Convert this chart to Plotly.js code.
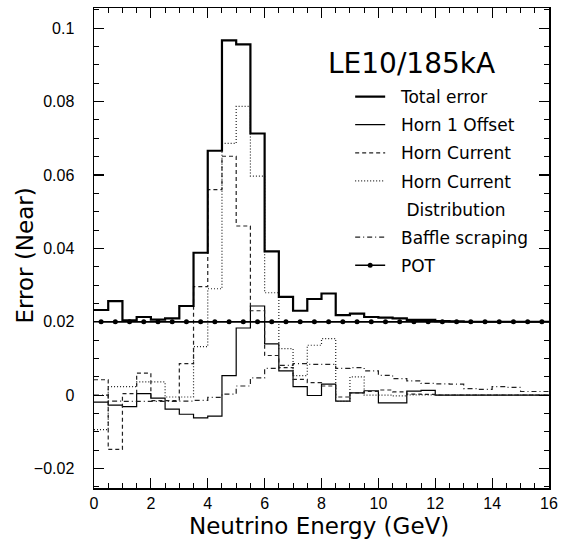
<!DOCTYPE html>
<html>
<head>
<meta charset="utf-8">
<script src="https://cdn.plot.ly/plotly-3.0.1.min.js"></script>
<style>html,body{margin:0;padding:0;background:#fff;}#chart{width:562px;height:544px;}</style>
</head>
<body>
<div id="chart"></div>
<script>
// Bin edges (GeV) of the histograms
const binEdges = [0,0.5,1,1.5,2,2.5,3,3.5,4,4.5,5,5.5,6,6.5,7,7.5,8,8.5,9,9.5,10,10.5,11,11.5,12,12.5,13,13.5,14,14.5,15,15.5,16];

const totalError = [0.0232,0.0256,0.0204,0.0213,0.0206,0.0209,0.0243,0.0388,0.0666,0.0967,0.0956,0.0713,0.0392,0.0268,0.0230,0.0262,0.0277,0.0218,0.0222,0.0213,0.0211,0.0209,0.0205,0.0205,0.0202,0.0201,0.0200,0.0200,0.0200,0.0200,0.0200,0.0200];
const horn1Offset = [-0.0019,-0.0027,-0.0031,0.0004,-0.0008,-0.0038,-0.0052,-0.0062,-0.0057,0.0053,0.0183,0.0243,0.0140,0.0066,0.0023,-0.0001,0.0030,-0.0016,0.0006,0.0012,-0.0021,-0.0021,0.0011,0.0013,0,0,0,0,0,0,0,0];
const hornCurrent = [0.0042,-0.0148,0.0004,0.0060,-0.0015,-0.0015,0.0086,0.0296,0.0560,0.0651,0.0461,0.0230,0.0108,0.0075,0.0043,0.0034,0.0025,-0.0005,0.0006,0.0010,0.0014,0.0009,0.0003,0.0002,0,0,0,0,0,0,0,0];
const hornCurrentDist = [-0.0094,0.0023,0.0023,0.0036,0.0036,-0.0005,-0.0005,0.0132,0.0290,0.0686,0.0787,0.0597,0.0279,0.0127,0.0053,0.0136,0.0154,-0.0017,0.0050,0.0000,0.0000,-0.0002,0.0001,0.0001,0,0,0,0,0,0,0,0];
const baffleScraping = [0.0000,-0.0016,-0.0017,-0.0017,-0.0017,-0.0017,-0.0016,-0.0014,-0.0006,0.0003,0.0025,0.0047,0.0073,0.0081,0.0086,0.0084,0.0084,0.0073,0.0075,0.0066,0.0054,0.0045,0.0039,0.0032,0.0031,0.0030,0.0018,0.0016,0.0023,0.0021,0.0010,0.0010];
const pot = [0.02,0.02,0.02,0.02,0.02,0.02,0.02,0.02,0.02,0.02,0.02,0.02,0.02,0.02,0.02,0.02,0.02,0.02,0.02,0.02,0.02,0.02,0.02,0.02,0.02,0.02,0.02,0.02,0.02,0.02,0.02,0.02];

const seriesNames = ['Total error','Horn 1 Offset','Horn Current','Horn Current','Distribution','Baffle scraping','POT'];
const yTickVals = [-0.02,0,0.02,0.04,0.06,0.08,0.1];
const yTickText = ['\u22120.02','0','0.02','0.04','0.06','0.08','0.1'];
const xTickVals = [0,2,4,6,8,10,12,14,16];

function stepY(v){ return v.concat([v[v.length-1]]); }
const centers = binEdges.slice(0,-1).map((e,i)=> (e+binEdges[i+1])/2);
const pad = '\u00a0\u00a0';

const legendFont = {family:'DejaVu Sans', size:17, color:'#000'};

const traces = [
  {x:binEdges, y:stepY(pot), mode:'lines', line:{shape:'hv', color:'#000', width:1.5}, showlegend:false, hoverinfo:'skip'},
  {x:binEdges, y:stepY(horn1Offset), name:pad+seriesNames[1], legendgroup:'g2', mode:'lines', line:{shape:'hv', color:'#000', width:1.2}, legendrank:2},
  {x:binEdges, y:stepY(hornCurrent), name:pad+seriesNames[2], legendgroup:'g3', mode:'lines', line:{shape:'hv', color:'#222', width:1.2, dash:'4px,3px'}, legendrank:3},
  {x:binEdges, y:stepY(hornCurrentDist), name:pad+seriesNames[3], legendgroup:'g4', mode:'lines', line:{shape:'hv', color:'#222', width:1.2, dash:'1px,2px'}, legendrank:4},
  {x:[null], y:[null], name:pad+'\u00a0'+seriesNames[4], legendgroup:'g5', mode:'lines', line:{color:'rgba(0,0,0,0)', width:0}, legendrank:5, hoverinfo:'skip'},
  {x:binEdges, y:stepY(baffleScraping), name:pad+seriesNames[5], legendgroup:'g6', mode:'lines', line:{shape:'hv', color:'#222', width:1.2, dash:'5px,3px,1px,3px'}, legendrank:6},
  {x:centers, y:pot, name:pad+seriesNames[6], legendgroup:'g7', mode:'lines+markers', line:{color:'#000', width:1.5}, marker:{color:'#000', size:5}, legendrank:7},
  {x:binEdges, y:stepY(totalError), name:pad+seriesNames[0], legendgroup:'g1', mode:'lines', line:{shape:'hv', color:'#000', width:2.2}, legendrank:1}
];

const axisCommon = {
  showline:true, linecolor:'#000', linewidth:1.5, mirror:'allticks',
  ticks:'inside', ticklen:10, tickwidth:1.2, tickcolor:'#000',
  showgrid:false, zeroline:false,
  tickfont:{family:'Liberation Sans', size:16, color:'#000'}
};

const titleFont = {family:'DejaVu Sans', size:23, color:'#000'};

const layout = {
  width:562, height:544,
  margin:{l:94, r:13, t:8, b:56},
  paper_bgcolor:'#fff', plot_bgcolor:'#fff',
  xaxis: Object.assign({}, axisCommon, {
    range:[0,16], tickmode:'array', tickvals:xTickVals,
    minor:{dtick:0.5, tick0:0, ticklen:5, ticks:'inside', tickcolor:'#000', tickwidth:1},
    ticklabelstandoff:0
  }),
  yaxis: Object.assign({}, axisCommon, {
    range:[-0.0253,0.1055], tickmode:'array', tickvals:yTickVals, ticktext:yTickText,
    minor:{dtick:0.005, tick0:0, ticklen:5, ticks:'inside', tickcolor:'#000', tickwidth:1},
    ticklabelstandoff:15
  }),
  showlegend:true,
  legend:{x:0.563, y:0.852, xanchor:'left', yanchor:'top', bgcolor:'rgba(0,0,0,0)', borderwidth:0,
          font:legendFont, traceorder:'grouped', tracegroupgap:3, valign:'middle', itemwidth:30},
  annotations:[
    {text:'LE10/185kA', xref:'paper', yref:'paper', x:0.697, y:0.885, xanchor:'center', yanchor:'middle',
     showarrow:false, font:{family:'DejaVu Sans', size:28, color:'#000'}},
    {text:'Neutrino Energy (GeV)', xref:'paper', yref:'paper', x:0.495, y:-0.079, xanchor:'center', yanchor:'middle',
     showarrow:false, font:titleFont},
    {text:'Error (Near)', xref:'paper', yref:'paper', x:-0.151, y:0.485, xanchor:'center', yanchor:'middle',
     textangle:-90, showarrow:false, font:titleFont}
  ]
};

Plotly.newPlot('chart', traces, layout, {staticPlot:true, displayModeBar:false});
</script>
</body>
</html>
